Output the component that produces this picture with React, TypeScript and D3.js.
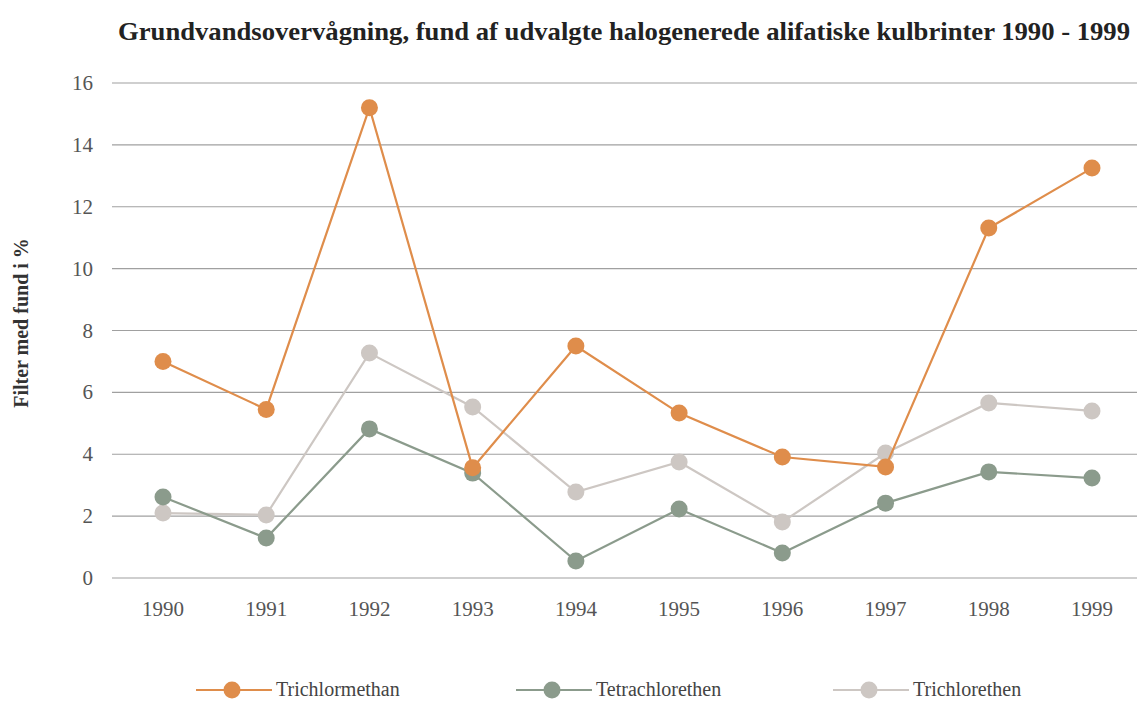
import React from "react";
import * as d3 from "d3";

const years = ["1990","1991","1992","1993","1994","1995","1996","1997","1998","1999"];
const trichlormethan = [7.0, 5.45, 15.2, 3.56, 7.5, 5.33, 3.91, 3.59, 11.31, 13.25];
const tetrachlorethen = [2.62, 1.29, 4.82, 3.39, 0.55, 2.23, 0.81, 2.42, 3.43, 3.23];
const trichlorethen = [2.1, 2.04, 7.27, 5.53, 2.78, 3.75, 1.81, 4.04, 5.66, 5.4];
const yTicks = [0, 2, 4, 6, 8, 10, 12, 14, 16];

const series = [
  { name: "Trichlormethan", values: trichlormethan, color: "#DF8D4B" },
  { name: "Tetrachlorethen", values: tetrachlorethen, color: "#8B9B8C" },
  { name: "Trichlorethen", values: trichlorethen, color: "#CDC7C3" },
];
const legendX = [232, 552, 869];

export default function App() {
  const W = 1137, H = 701;
  const x = d3.scalePoint<string>().domain(years).range([163, 1092]);
  const y = d3.scaleLinear().domain([0, 16]).range([578, 83]);
  const line = d3.line<number>().x((_, i) => x(years[i])!).y(d => y(d));
  const fs = { fontFamily: '"Liberation Serif", "Times New Roman", serif' };
  const order = [2, 1, 0];
  return (
    <svg width={W} height={H} style={{ position: "absolute", left: 0, top: 0, ...fs }}>
      <rect width={W} height={H} fill="#fff" />
      <text x={624} y={40} textAnchor="middle" fontWeight="bold" fontSize={25} fill="#222" style={fs}
        textLength={1012} lengthAdjust="spacingAndGlyphs">
        Grundvandsovervågning, fund af udvalgte halogenerede alifatiske kulbrinter 1990 - 1999
      </text>
      {yTicks.map(t => (
        <g key={t}>
          <line x1={112} x2={1137} y1={y(t)} y2={y(t)} stroke="#a0a0a0" strokeWidth={1.2} />
          <text x={93} y={y(t) + 7} textAnchor="end" fontSize={21} fill="#555" style={fs}>{t}</text>
        </g>
      ))}
      {years.map(yr => (
        <text key={yr} x={x(yr)} y={616} textAnchor="middle" fontSize={21} fill="#555" style={fs}>{yr}</text>
      ))}
      <text transform="translate(28,323) rotate(-90)" textAnchor="middle" fontWeight="bold" fontSize={20} fill="#333" style={fs}>
        Filter med fund i %
      </text>
      {order.map(i => {
        const s = series[i];
        return (
          <g key={s.name}>
            <path d={line(s.values)!} fill="none" stroke={s.color} strokeWidth={2.2} />
            {s.values.map((v, j) => (
              <circle key={j} cx={x(years[j])} cy={y(v)} r={8.5} fill={s.color} />
            ))}
          </g>
        );
      })}
      {series.map((s, i) => (
        <g key={s.name}>
          <line x1={legendX[i] - 36} x2={legendX[i] + 40} y1={690} y2={690} stroke={s.color} strokeWidth={2.2} />
          <circle cx={legendX[i]} cy={690} r={8.5} fill={s.color} />
          <text x={legendX[i] + 44} y={695.5} fontSize={20} fill="#444" style={fs}>{s.name}</text>
        </g>
      ))}
    </svg>
  );
}
